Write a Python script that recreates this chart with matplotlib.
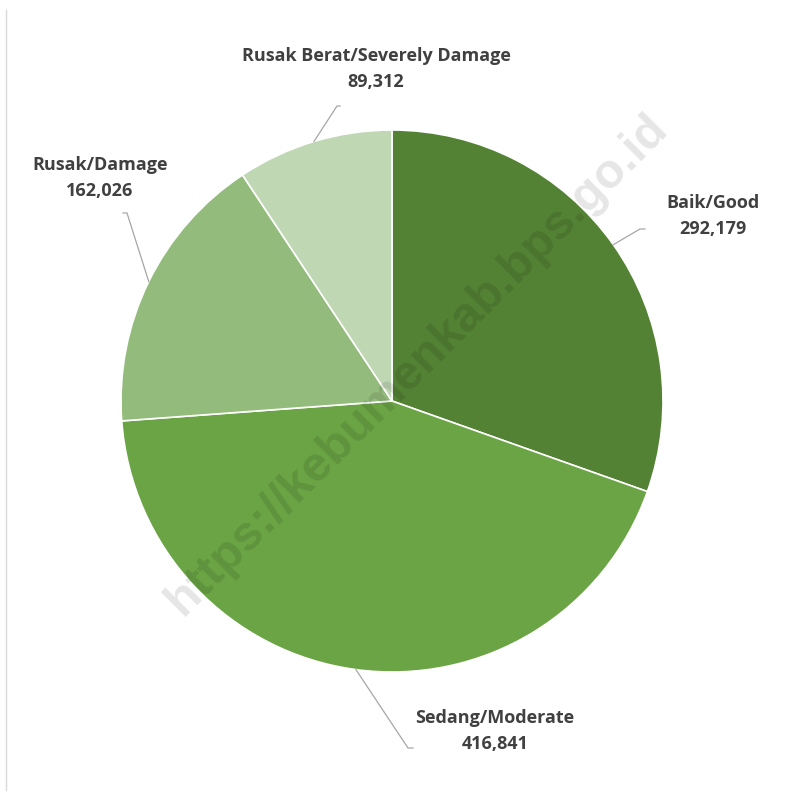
import numpy as np
import matplotlib.pyplot as plt
from matplotlib.lines import Line2D

# data
categories = ["Baik/Good", "Sedang/Moderate", "Rusak/Damage", "Rusak Berat/Severely Damage"]
values = [292179, 416841, 162026, 89312]
colors = ["#548235", "#6AA444", "#93BB7C", "#C0D7B4"]

W, H = 807, 795
fig = plt.figure(figsize=(W / 100, H / 100), dpi=100)
ax = fig.add_axes([0, 0, 1, 1])

cx, cy, r = 392, H - 401, 271
wedges, _ = ax.pie(
    values,
    colors=colors,
    startangle=90,
    counterclock=False,
    center=(cx, cy),
    radius=r,
    wedgeprops={"edgecolor": "white", "linewidth": 1.2},
    frame=True,
)
ax.set_xlim(0, W)
ax.set_ylim(0, H)
ax.set_aspect("equal")
ax.axis("off")

# label centre and leader elbow, in pixels from top
label_pos = [(713, 216), (495, 731), (100, 178), (376, 69)]
elbow = [((640, 229), (645, 229)), ((408, 748), (413, 748)),
         ((127, 213), (123, 213)), ((337, 106), (340, 106))]

for w, val, cat, (lx, ly), (e1, e2) in zip(wedges, values, categories, label_pos, elbow):
    ang = np.deg2rad((w.theta1 + w.theta2) / 2)
    px, py = cx + r * np.cos(ang), cy + r * np.sin(ang)
    ax.plot([px, e1[0], e2[0]], [py, H - e1[1], H - e2[1]],
            color="#A6A6A6", lw=0.9, zorder=1)
    ax.text(lx, H - ly, f"{cat}\n{val:,}", ha="center", va="center",
            fontsize=13, fontweight="bold", family="Open Sans", color="#404040",
            linespacing=1.55, zorder=5)

# watermark
ax.text(417, H - 365, "https://kebumenkab.bps.go.id", rotation=45,
        ha="center", va="center", fontsize=35, fontweight="bold",
        family="Liberation Sans", color="black", alpha=0.1, zorder=6)

# thin left border line
fig.add_artist(Line2D([6 / W, 6 / W], [1 - 10 / H, 1 - 790 / H],
                      transform=fig.transFigure, color="#D9D9D9", lw=1))

fig.savefig("out.png", dpi=100)
